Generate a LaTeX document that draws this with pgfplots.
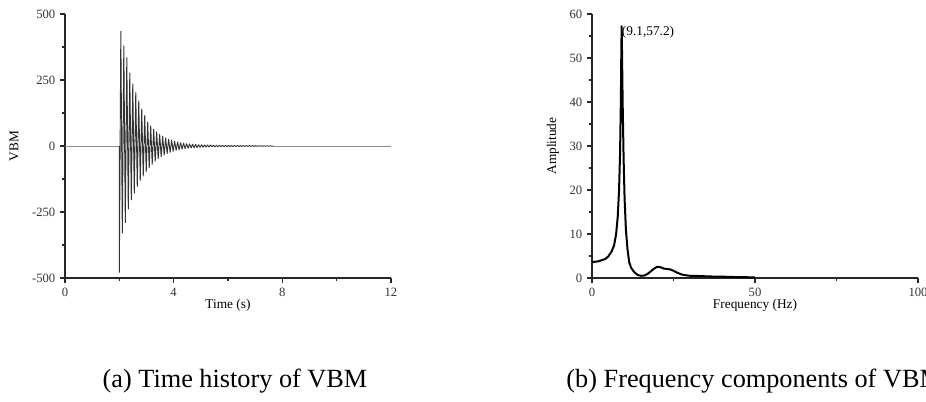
\documentclass[border=0pt]{standalone}
\usepackage{fontspec}
\setmainfont{Liberation Serif}
\usepackage{pgfplots}
\pgfplotsset{compat=1.18}
\pgfplotsset{
  panel/.style={
    scale only axis, width=244.5pt, height=198pt,
    axis lines=left, axis line style={-, line width=1.1pt, black!85},
    tick align=outside, major tick length=3.75pt, minor tick length=2.25pt,
    tick style={line width=0.9pt, black!85},
    minor tick num=1,
    /pgf/number format/assume math mode=true,
    ticklabel style={font=\fontsize{9.5}{10}\selectfont, text=black!80},
    label style={font=\fontsize{10}{11}\selectfont},
    clip=false,
  }
}
\begin{document}
\begin{tikzpicture}
\useasboundingbox (0,0) rectangle (694.5pt,300.75pt);
\clip (0,0) rectangle (694.5pt,300.75pt);
\begin{axis}[panel, at={(48.75pt,92.25pt)}, anchor=south west,
  xmin=0, xmax=12, ymin=-500, ymax=500,
  xtick={0,4,8,12}, ytick={-500,-250,0,250,500},
  xlabel={Time (s)}, ylabel={VBM},
  xlabel style={at={(axis description cs:0.5,-0.105)}, anchor=center},
  ylabel style={at={(axis description cs:-0.156,0.5)}, anchor=center},
]
\addplot[black!45, line width=0.6pt] coordinates {(0,0) (2.0,0)};
\addplot[black!45, line width=0.6pt] coordinates {(7.665,0) (12,0)};
\addplot[black!80, line width=0.7pt, line join=bevel] coordinates {
(2.0,0) (2.000,-480) (2.055,435) (2.110,-331) (2.165,380) (2.220,-291) (2.275,336)
(2.330,-240) (2.385,278) (2.440,-205) (2.495,236) (2.550,-180) (2.605,204)
(2.660,-155) (2.715,172) (2.770,-132) (2.825,142) (2.880,-115) (2.935,117)
(2.990,-98) (3.045,92) (3.100,-84) (3.155,77) (3.210,-70) (3.265,64)
(3.320,-59) (3.375,54) (3.430,-50) (3.485,45) (3.540,-42) (3.595,38)
(3.650,-35) (3.705,32) (3.760,-29.5) (3.815,27) (3.870,-25) (3.925,23)
(3.980,-21) (4.035,19) (4.090,-17.5) (4.145,16) (4.200,-14.8) (4.255,13.5)
(4.310,-12.4) (4.365,11.4) (4.420,-10.5) (4.475,9.6) (4.530,-8.9) (4.585,8.3)
(4.640,-7.8) (4.695,7.3) (4.750,-6.9) (4.805,6.5) (4.860,-6.1) (4.915,5.8)
(4.970,-5.5) (5.025,5.2) (5.080,-4.9) (5.135,4.7) (5.190,-4.4) (5.245,4.2)
(5.300,-4.0) (5.355,3.8) (5.410,-3.6) (5.465,3.5) (5.520,-3.3) (5.575,3.2)
(5.630,-3.0) (5.685,2.9) (5.740,-2.8) (5.795,2.7) (5.850,-2.6) (5.905,2.5)
(5.960,-2.4) (6.015,2.3) (6.070,-2.2) (6.125,2.1) (6.180,-2.0) (6.235,1.95)
(6.290,-1.9) (6.345,1.85) (6.400,-1.8) (6.455,1.75) (6.510,-1.7) (6.565,1.65)
(6.620,-1.6) (6.675,1.55) (6.730,-1.5) (6.785,1.45) (6.840,-1.4) (6.895,1.35)
(6.950,-1.3) (7.005,1.25) (7.060,-1.2) (7.115,1.15) (7.170,-1.1) (7.225,1.05)
(7.280,-1.0) (7.335,0.95) (7.390,-0.9) (7.445,0.85) (7.500,-0.8) (7.555,0.75)
(7.610,-0.7) (7.665,0)
};
\end{axis}
\begin{axis}[panel, at={(444pt,92.25pt)}, anchor=south west,
  xmin=0, xmax=100, ymin=0, ymax=60,
  xtick={0,50,100}, ytick={0,10,20,30,40,50,60},
  xlabel={Frequency (Hz)}, ylabel={Amplitude},
  xlabel style={at={(axis description cs:0.5,-0.105)}, anchor=center},
  ylabel style={at={(axis description cs:-0.12,0.5)}, anchor=center},
]
\addplot[black, line width=1.5pt, line join=round] coordinates {
(0,3.6) (2,3.8) (4,4.3) (5,4.9) (6,6.0) (6.8,7.5) (7.4,10) (7.9,14) (8.3,20)
(8.6,28) (8.85,40) (9.0,52) (9.1,57.2) (9.2,52) (9.4,40) (9.7,27) (10.0,18)
(10.4,11) (10.9,6.5) (11.4,3.6) (12,2.3) (13,1.3) (14,0.7) (15,0.5) (16,0.55)
(17,0.9) (18,1.5) (19,2.1) (20,2.55) (21,2.45) (22,2.15) (23,2.05) (24,1.95)
(25,1.65) (26,1.25) (27,0.95) (28,0.7) (30,0.5) (33,0.45) (36,0.35) (40,0.3)
(45,0.2) (50,0.15)
};
\node[anchor=west, inner sep=0pt, font=\fontsize{10}{11}\selectfont] at (axis cs:9.1,55.8) {(9.1,57.2)};
\end{axis}
\node[font=\fontsize{19.7}{22}\selectfont] at (176.25pt,15pt) {(a) Time history of VBM};
\node[font=\fontsize{19.7}{22}\selectfont] at (566pt,15pt) {(b) Frequency components of VBM};
\end{tikzpicture}
\end{document}
